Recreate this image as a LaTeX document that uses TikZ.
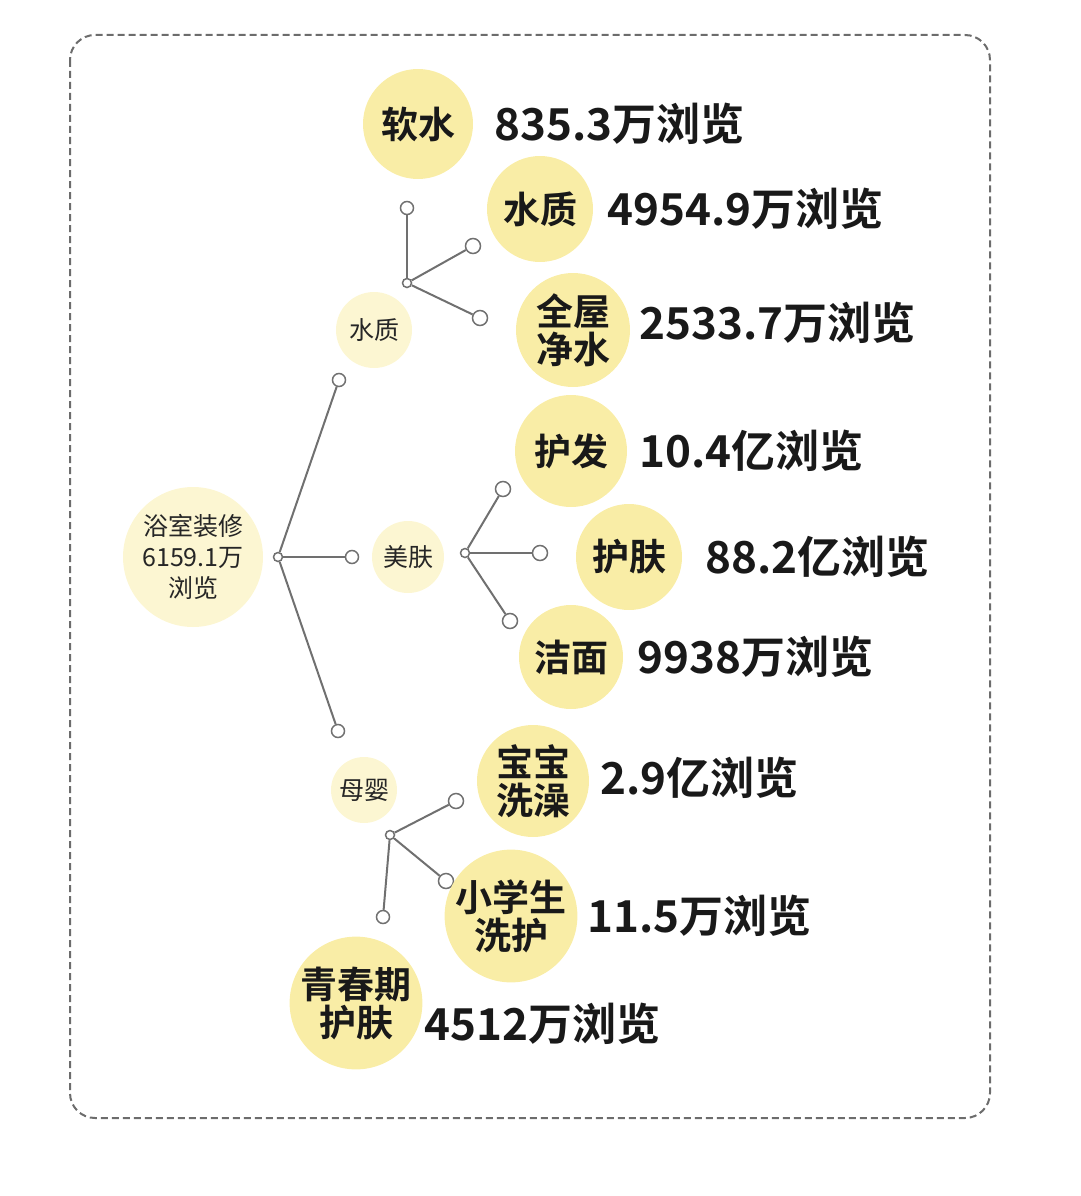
\documentclass[tikz,border=0pt]{standalone}
\usepackage{fontspec}
\newfontfamily\cjk{Noto Sans CJK SC}
\newfontfamily\cjkb{Noto Sans CJK SC Bold}
\begin{document}
\begin{tikzpicture}[x=1pt,y=-1pt,
  big/.style={circle,fill=bigY,minimum size=#1,inner sep=0pt,align=center,font=\cjkb\fontsize{37}{38}\selectfont,text=black!90},
  cat/.style={circle,fill=catY,minimum size=#1,inner sep=0pt,align=center,font=\cjk\fontsize{25}{31}\selectfont,text=black!85},
  dot/.style={circle,draw=lineG,fill=white,line width=1.5pt,minimum size=#1,inner sep=0pt},
  hub/.style={circle,draw=lineG,fill=white,line width=1.5pt,minimum size=9pt,inner sep=0pt},
  val/.style={anchor=west,font=\cjkb\fontsize{44}{46}\selectfont,text=black!90},
  ln/.style={draw=lineG,line width=2pt}]
\definecolor{bigY}{HTML}{F9EDA6}
\definecolor{catY}{HTML}{FCF6D2}
\definecolor{lineG}{HTML}{707070}
\useasboundingbox (0,0) rectangle (1080,1196);
\draw[gray!85!black,line width=2pt,rounded corners=25pt,dash pattern=on 7pt off 4pt] (70,35) rectangle (990,1118);
% root
\node[cat=140pt] (root) at (193,557) {浴室装修\\6159.1万\\浏览};
\node[hub] (h0) at (278,557) {};
\node[dot=13pt] (d1) at (339,380) {};
\node[dot=13pt] (d2) at (352,557) {};
\node[dot=13pt] (d3) at (338,731) {};
\draw[ln] (h0) -- (d1); \draw[ln] (h0) -- (d2); \draw[ln] (h0) -- (d3);
\node[cat=76pt] (c1) at (374,330) {水质};
\node[cat=72pt] (c2) at (408,557) {美肤};
\node[cat=66pt] (c3) at (364,790) {母婴};
% hubs
\node[hub] (h1) at (407,283) {};
\node[dot=13pt] (e1) at (407,208) {};
\node[dot=15pt] (e2) at (473,246) {};
\node[dot=15pt] (e3) at (480,318) {};
\draw[ln] (h1)--(e1); \draw[ln] (h1)--(e2); \draw[ln] (h1)--(e3);
\node[hub] (h2) at (465,553) {};
\node[dot=15pt] (f1) at (503,489) {};
\node[dot=15pt] (f2) at (540,553) {};
\node[dot=15pt] (f3) at (510,621) {};
\draw[ln] (h2)--(f1); \draw[ln] (h2)--(f2); \draw[ln] (h2)--(f3);
\node[hub] (h3) at (390,835) {};
\node[dot=15pt] (g1) at (456,801) {};
\node[dot=15pt] (g2) at (446,881) {};
\node[dot=13pt] (g3) at (383,917) {};
\draw[ln] (h3)--(g1); \draw[ln] (h3)--(g2); \draw[ln] (h3)--(g3);
% big bubbles
\node[big=110pt] (b1) at (418,124) {软水};
\node[big=106pt] (b2) at (540,209) {水质};
\node[big=114pt] (b3) at (573,330) {全屋\\净水};
\node[big=112pt] (b4) at (571,451) {护发};
\node[big=106pt] (b5) at (629,557) {护肤};
\node[big=104pt] (b6) at (571,657) {洁面};
\node[big=112pt] (b7) at (533,781) {宝宝\\洗澡};
\node[big=112pt] (b8) at (511,916) {小学生\\洗护};
\node[big=114pt] (b9) at (356,1003) {青春期\\护肤};
\node[val] (v1) at (491,124) {835.3万浏览};
\node[val] (v2) at (604,209) {4954.9万浏览};
\node[val] (v3) at (636,323) {2533.7万浏览};
\node[val] (v4) at (636,451) {10.4亿浏览};
\node[val] (v5) at (702,557) {88.2亿浏览};
\node[val] (v6) at (634,657) {9938万浏览};
\node[val] (v7) at (597,778) {2.9亿浏览};
\node[val] (v8) at (584,916) {11.5万浏览};
\node[val] (v9) at (421,1024) {4512万浏览};
\end{tikzpicture}
\end{document}
